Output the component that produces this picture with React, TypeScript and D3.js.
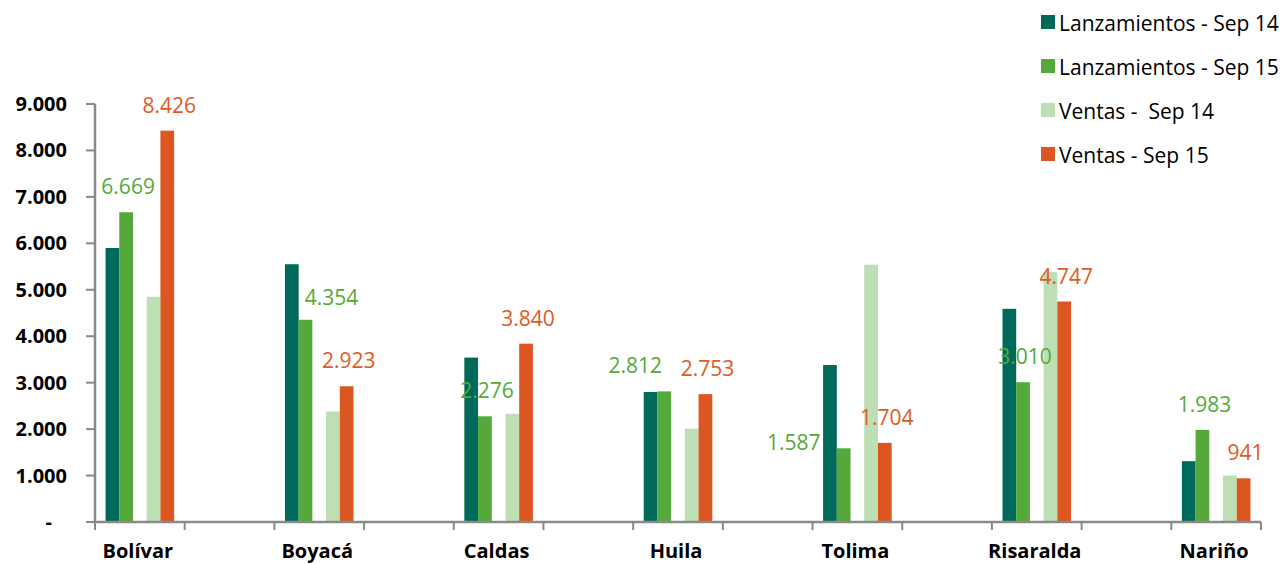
import React from "react";
import * as d3 from "d3";

const categories = ["Bolívar", "Boyacá", "Caldas", "Huila", "Tolima", "Risaralda", "Nariño"];
const lanzSep14 = [5900, 5550, 3540, 2800, 3380, 4590, 1310];
const lanzSep15 = [6669, 4354, 2276, 2812, 1587, 3010, 1983];
const ventasSep14 = [4850, 2380, 2330, 2010, 5540, 5380, 1000];
const ventasSep15 = [8426, 2923, 3840, 2753, 1704, 4747, 941];
const yTicks = [0, 1000, 2000, 3000, 4000, 5000, 6000, 7000, 8000, 9000];
const seriesNames = ["Lanzamientos - Sep 14", "Lanzamientos - Sep 15", "Ventas -  Sep 14", "Ventas - Sep 15"];

// manual label nudges (as in the original chart)
const greenLabelNudge: Record<string, [number, number]> = {
  "Boyacá": [24, 3],
  "Huila": [-31, 0],
  "Tolima": [-52, 20],
};

const W = 1284;
const H = 564;
const colors = ["#006A5A", "#55A93A", "#BEDFB4", "#DC5621"];
const labelColors = ["#006A5A", "#55A93A", "#BEDFB4", "#E05A24"];
const slots = ["s0", "s1", "gap", "s2", "s3"];
const seriesSlots = ["s0", "s1", "s2", "s3"];
const seriesData = [lanzSep14, lanzSep15, ventasSep14, ventasSep15];
const axisColor = "#8A8A8A";
const font = "'Open Sans', 'Noto Sans', sans-serif";

export default function App() {
  // 13 bands: categories interleaved with empty bands
  const bandKeys: string[] = [];
  categories.forEach((c, i) => {
    bandKeys.push(c);
    if (i < categories.length - 1) bandKeys.push("__blank" + i);
  });
  const x0 = d3.scaleBand<string>().domain(bandKeys).range([95, 1261]).padding(0);
  const x1 = d3.scaleBand<string>().domain(slots).range([0, x0.bandwidth()]).paddingInner(0).paddingOuter(0.77);
  const y = d3.scaleLinear().domain([0, 9000]).range([522, 104]);

  const fmt = (v: number) => (v === 0 ? "-" : d3.format(",")(v).replace(/,/g, "."));

  const bands = x0.domain();
  const tickXs = [...bands.map((b) => x0(b) as number), x0.range()[1]];

  return (
    <svg width={W} height={H} style={{ position: "absolute", left: 0, top: 0, background: "#fff" }}>
      {/* bars */}
      {categories.map((c, ci) =>
        seriesData.map((arr, si) => (
          <rect
            key={c + si}
            x={(x0(c) as number) + (x1(seriesSlots[si]) as number)}
            y={y(arr[ci])}
            width={x1.bandwidth()}
            height={y(0) - y(arr[ci])}
            fill={colors[si]}
          />
        ))
      )}

      {/* y axis */}
      <line x1={95} x2={95} y1={y(9000)} y2={y(0) + 1} stroke={axisColor} strokeWidth={2.5} />
      {yTicks.map((t) => (
        <g key={t}>
          <line x1={86} x2={95} y1={y(t)} y2={y(t)} stroke={axisColor} strokeWidth={2} />
          <text
            x={t === 0 ? 52 : 67}
            y={y(t)}
            dy="0.35em"
            textAnchor="end"
            fontFamily={font}
            fontWeight="bold"
            fontSize={20}
            fill="#000"
          >
            {fmt(t)}
          </text>
        </g>
      ))}

      {/* x axis */}
      <line x1={94} x2={x0.range()[1]} y1={y(0)} y2={y(0)} stroke={axisColor} strokeWidth={2.5} />
      {tickXs.map((tx, i) => (
        <line key={i} x1={tx} x2={tx} y1={y(0)} y2={y(0) + 8} stroke={axisColor} strokeWidth={2} />
      ))}
      {categories.map((c) => (
        <text
          key={c}
          x={(x0(c) as number) + x0.bandwidth() / 2 - 2}
          y={558}
          textAnchor="middle"
          fontFamily={font}
          fontWeight="bold"
          fontSize={20}
          fill="#000"
        >
          {c}
        </text>
      ))}

      {/* data labels */}
      {categories.map((c, ci) =>
        [1, 3].map((si) => {
          const v = seriesData[si][ci];
          const cx = (x0(c) as number) + (x1(seriesSlots[si]) as number) + x1.bandwidth() / 2;
          const nudge = si === 1 && greenLabelNudge[c] ? greenLabelNudge[c] : [0, 0];
          return (
            <text
              key={c + "l" + si}
              x={cx + 2 + nudge[0]}
              y={y(v) - 18 + nudge[1]}
              textAnchor="middle"
              fontFamily={font}
              fontSize={21}
              fill={labelColors[si]}
            >
              {fmt(v)}
            </text>
          );
        })
      )}

      {/* legend */}
      {seriesNames.map((n, i) => (
        <g key={n} transform={`translate(1041, ${15 + i * 44})`}>
          <rect x={0} y={0} width={14} height={14} fill={colors[i]} />
          <text x={18} y={16} fontFamily={font} fontSize={21} fill="#000" style={{ whiteSpace: "pre" }}>
            {n}
          </text>
        </g>
      ))}
    </svg>
  );
}
